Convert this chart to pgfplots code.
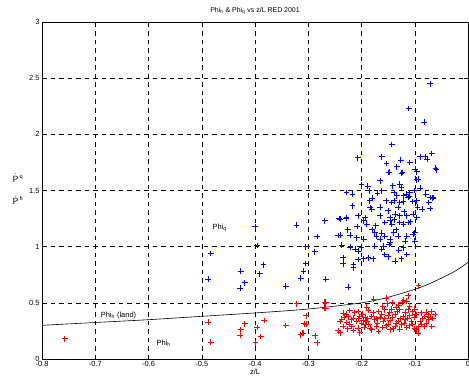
\documentclass[border=0pt]{standalone}
\usepackage{pgfplots}
\pgfplotsset{compat=1.18}
\usepackage{fontspec}
\setmainfont{Liberation Sans}
\definecolor{mblue}{RGB}{0,0,255}
\definecolor{mred}{RGB}{255,0,0}
\begin{document}
\begin{tikzpicture}
\begin{axis}[
  name=ax,
  scale only axis,
  width=426bp, height=337bp,
  xmin=-0.8, xmax=0, ymin=0, ymax=3,
  xtick={-0.8,-0.7,...,0}, ytick={0,0.5,...,3},
  xticklabels={-0.8,-0.7,-0.6,-0.5,-0.4,-0.3,-0.2,-0.1,0},
  yticklabels={0,0.5,1,1.5,2,2.5,3},
  /pgf/number format/assume math mode=true,
  ticklabel style={font=\fontsize{7.5}{8}\selectfont},
  tick align=inside,
  major tick length=4bp,
  tick style={black, line width=0.5pt},
  axis line style={black, line width=0.8pt},
  grid=major,
  major grid style={black, line width=0.5pt, dash pattern=on 4.5bp off 4bp},
  clip=false,
  xlabel={z/L},
  xlabel style={font=\fontsize{7.5}{8}\selectfont, yshift=5bp},
  title={Phi\textsubscript{h} \& Phi\textsubscript{q} vs z/L RED 2001},
  title style={font=\fontsize{7}{8}\selectfont, yshift=-2bp},
  xticklabel style={yshift=1bp},
  yticklabel style={xshift=1bp},
]
% Phi_q (blue)
\addplot[only marks, mark=+, mark size=2.9bp, draw=mblue, line width=0.95pt,
  mark options={draw=mblue, solid}] coordinates {
(-0.071,2.45) (-0.111,2.23) (-0.082,2.11) (-0.143,1.91) (-0.207,1.79) (-0.162,1.80)
(-0.126,1.77) (-0.153,1.74) (-0.134,1.71) (-0.109,1.75) (-0.099,1.69) (-0.090,1.80)
(-0.080,1.80) (-0.077,1.78) (-0.068,1.83) (-0.061,1.70) (-0.149,1.66) (-0.123,1.66)
(-0.093,1.60) (-0.071,1.34) (-0.066,1.43)
(-0.148,1.662) (-0.125,1.656) (-0.096,1.668) (-0.059,1.686) (-0.165,1.588) (-0.200,1.552)
(-0.188,1.537) (-0.141,1.543) (-0.128,1.558) (-0.125,1.528) (-0.115,1.468) (-0.109,1.483)
(-0.096,1.597) (-0.228,1.483) (-0.217,1.468) (-0.185,1.498) (-0.170,1.477) (-0.162,1.498)
(-0.139,1.483) (-0.134,1.453) (-0.121,1.453) (-0.112,1.438) (-0.079,1.468) (-0.071,1.438)
(-0.065,1.438) (-0.074,1.394) (-0.086,1.334) (-0.217,1.364) (-0.185,1.408) (-0.184,1.349)
(-0.181,1.334) (-0.154,1.408) (-0.143,1.394) (-0.139,1.408) (-0.128,1.394) (-0.121,1.400)
(-0.104,1.403) (-0.096,1.408) (-0.131,1.349) (-0.240,1.244) (-0.228,1.259) (-0.206,1.274)
(-0.193,1.259) (-0.165,1.274) (-0.146,1.259) (-0.137,1.289) (-0.128,1.274) (-0.115,1.274)
(-0.103,1.289) (-0.096,1.259) (-0.269,1.229) (-0.196,1.229) (-0.173,1.185) (-0.156,1.215)
(-0.146,1.229) (-0.143,1.200) (-0.128,1.215) (-0.121,1.200) (-0.112,1.215) (-0.240,1.101)
(-0.221,1.101) (-0.209,1.080) (-0.196,1.065) (-0.175,1.125) (-0.172,1.095) (-0.165,1.065)
(-0.156,1.095) (-0.146,1.065) (-0.140,1.125) (-0.131,1.095) (-0.115,1.095) (-0.103,1.110)
(-0.100,1.125) (-0.237,1.012) (-0.221,0.997) (-0.212,0.976) (-0.206,0.961) (-0.200,0.991)
(-0.175,1.006) (-0.159,1.006) (-0.162,0.976) (-0.146,1.036) (-0.121,0.991) (-0.234,0.901)
(-0.234,0.847) (-0.215,0.841) (-0.206,0.886) (-0.196,0.892) (-0.187,0.901) (-0.178,0.892)
(-0.156,0.931) (-0.150,0.910) (-0.137,0.871) (-0.125,0.892) (-0.115,0.931) (-0.215,0.812)
(-0.180,1.43) (-0.165,1.35) (-0.150,1.32) (-0.138,1.24) (-0.120,1.31) (-0.108,1.22)
(-0.095,1.35) (-0.180,1.15) (-0.162,1.12) (-0.135,1.15) (-0.118,1.05) (-0.100,1.05)
(-0.190,1.20) (-0.208,1.18) (-0.226,1.15) (-0.148,1.02) (-0.130,0.97) (-0.110,1.45)
(-0.090,1.52) (-0.100,1.50)
(-0.483,0.94) (-0.488,0.71) (-0.427,0.78) (-0.428,0.63) (-0.419,0.68) (-0.391,0.76)
(-0.384,0.84) (-0.396,1.01) (-0.400,1.18) (-0.342,0.65) (-0.322,1.19) (-0.314,0.72)
(-0.309,0.78) (-0.305,0.85) (-0.305,1.00) (-0.288,0.955) (-0.283,1.09) (-0.269,1.23)
(-0.267,0.71) (-0.225,0.64) (-0.244,1.10) (-0.242,1.25) (-0.229,1.25)
};
% Phi_h (red)
\addplot[only marks, mark=+, mark size=2.9bp, draw=mred, line width=0.95pt,
  mark options={draw=mred, solid}] coordinates {
(-0.093,0.653) (-0.112,0.564) (-0.121,0.522) (-0.115,0.513) (-0.153,0.543) (-0.151,0.492)
(-0.177,0.534) (-0.269,0.504) (-0.269,0.453) (-0.304,0.385) (-0.308,0.313) (-0.310,0.229)
(-0.287,0.206) (-0.283,0.146)
(-0.234,0.409) (-0.222,0.432) (-0.206,0.423) (-0.187,0.432) (-0.168,0.423) (-0.156,0.438)
(-0.143,0.444) (-0.128,0.438) (-0.112,0.438) (-0.100,0.444) (-0.078,0.415) (-0.062,0.397)
(-0.068,0.423) (-0.237,0.355) (-0.225,0.379) (-0.215,0.364) (-0.203,0.379) (-0.193,0.373)
(-0.181,0.379) (-0.165,0.373) (-0.150,0.385) (-0.137,0.394) (-0.121,0.379) (-0.109,0.385)
(-0.097,0.394) (-0.081,0.379) (-0.071,0.373) (-0.240,0.334) (-0.228,0.325) (-0.209,0.334)
(-0.197,0.343) (-0.190,0.334) (-0.175,0.349) (-0.159,0.334) (-0.146,0.343) (-0.131,0.334)
(-0.118,0.349) (-0.106,0.334) (-0.090,0.334) (-0.074,0.349) (-0.234,0.289) (-0.218,0.289)
(-0.206,0.274) (-0.193,0.304) (-0.184,0.274) (-0.172,0.289) (-0.153,0.295) (-0.137,0.289)
(-0.125,0.304) (-0.109,0.295) (-0.093,0.289) (-0.068,0.289) (-0.240,0.235) (-0.215,0.253)
(-0.203,0.235) (-0.181,0.259) (-0.168,0.244) (-0.146,0.259) (-0.128,0.265) (-0.097,0.259)
(-0.093,0.229)
(-0.228,0.40) (-0.213,0.41) (-0.198,0.40) (-0.178,0.41) (-0.162,0.40) (-0.147,0.41)
(-0.133,0.42) (-0.118,0.41) (-0.104,0.42) (-0.088,0.41) (-0.075,0.40)
(-0.232,0.37) (-0.219,0.35) (-0.205,0.36) (-0.188,0.36) (-0.171,0.36) (-0.156,0.36)
(-0.141,0.37) (-0.127,0.36) (-0.113,0.36) (-0.101,0.37) (-0.085,0.36) (-0.066,0.36)
(-0.222,0.31) (-0.200,0.32) (-0.186,0.31) (-0.170,0.32) (-0.150,0.31) (-0.135,0.32)
(-0.120,0.32) (-0.104,0.31) (-0.087,0.31) (-0.078,0.32)
(-0.244,0.25) (-0.226,0.27) (-0.195,0.28) (-0.160,0.28) (-0.140,0.27) (-0.115,0.28)
(-0.100,0.27) (-0.082,0.29)
(-0.190,0.46) (-0.160,0.47) (-0.135,0.46) (-0.110,0.47) (-0.130,0.48) (-0.142,0.50) (-0.124,0.505)
(-0.757,0.179) (-0.488,0.328) (-0.483,0.149) (-0.427,0.259) (-0.428,0.209) (-0.419,0.313)
(-0.399,0.143) (-0.396,0.280) (-0.389,0.200) (-0.383,0.343) (-0.342,0.298) (-0.322,0.492)
(-0.314,0.215) (-0.309,0.230) (-0.304,0.388) (-0.304,0.310) (-0.287,0.209) (-0.283,0.143)
(-0.267,0.504) (-0.267,0.453)
};
% Phi_h (land) curve
\addplot[black, line width=0.6pt, smooth] coordinates {
(-0.8,0.30) (-0.7,0.325) (-0.6,0.35) (-0.5,0.38) (-0.4,0.41) (-0.3,0.445)
(-0.2,0.50) (-0.15,0.55) (-0.1,0.62) (-0.075,0.665) (-0.05,0.72) (-0.025,0.78) (0,0.86)
};
\node[anchor=west, font=\fontsize{7.5}{8}\selectfont, inner sep=0pt] at (axis cs:-0.69,0.39) {Phi\textsubscript{h} (land)};
\node[anchor=west, font=\fontsize{7.5}{8}\selectfont, inner sep=0pt] at (axis cs:-0.48,1.17) {Phi\textsubscript{q}};
\node[anchor=west, font=\fontsize{7.5}{8}\selectfont, inner sep=0pt] at (axis cs:-0.585,0.14) {Phi\textsubscript{h}};
\node[font=\fontsize{9}{9}\selectfont, inner sep=0pt] at ([xshift=-24bp]axis cs:-0.8,1.61) {$\dot{\mathsf{P}}^{\,\mathsf{q}}$};
\node[font=\fontsize{9}{9}\selectfont, inner sep=0pt] at ([xshift=-24bp]axis cs:-0.8,1.41) {$\dot{\mathsf{P}}^{\,\mathsf{h}}$};
\end{axis}
\pgfresetboundingbox
\path[use as bounding box] ([shift={(-42bp,-26bp)}]ax.south west) rectangle ([shift={(1bp,22bp)}]ax.north east);
\end{tikzpicture}
\end{document}
